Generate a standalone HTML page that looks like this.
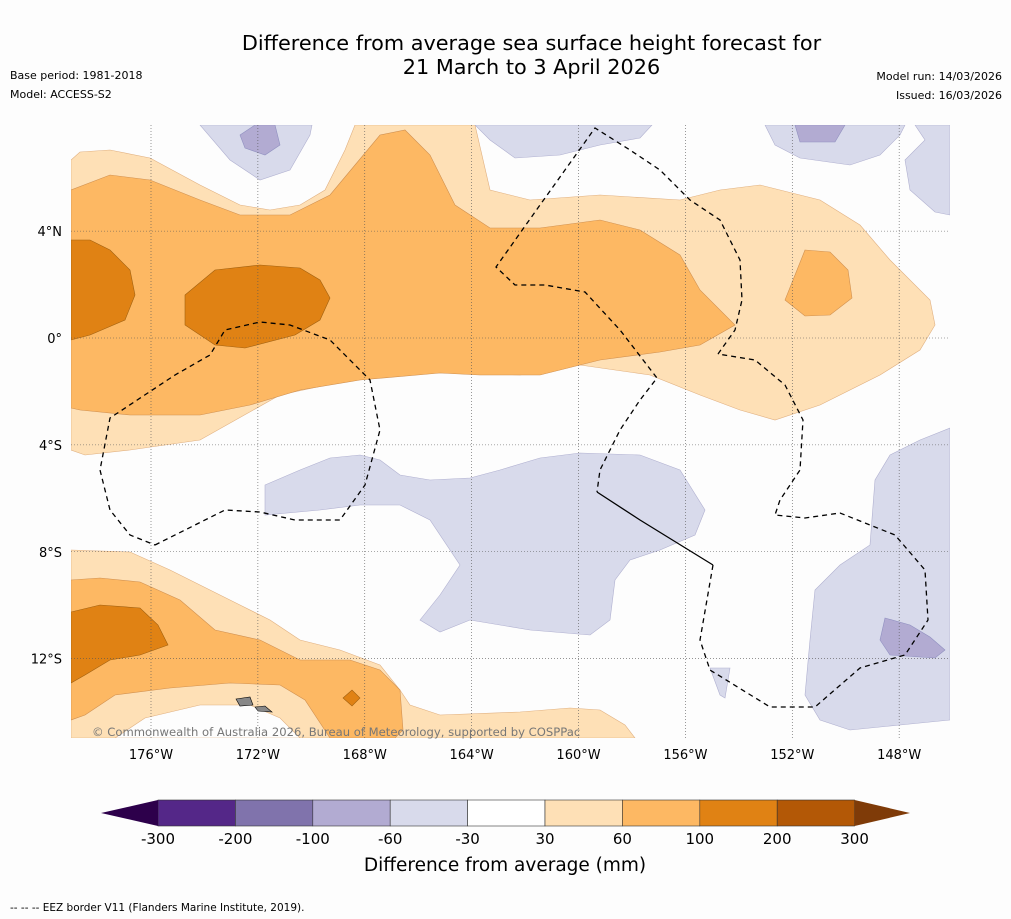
<!DOCTYPE html>
<html><head><meta charset="utf-8">
<style>
body{margin:0;background:#fdfdfd;font-family:"DejaVu Sans","Liberation Sans",sans-serif;}
#root{position:relative;width:1011px;height:919px;overflow:hidden;background:#fdfdfd;}
.t{position:absolute;white-space:nowrap;color:#000;}
svg text{font-family:"DejaVu Sans","Liberation Sans",sans-serif;}
</style></head><body>
<div id="root">
<div class="t" style="left:0;width:1063px;text-align:center;top:31px;font-size:20.8px;line-height:24px">Difference from average sea surface height forecast for<br>21 March to 3 April 2026</div>
<div class="t" style="left:10px;top:69px;font-size:11px">Base period: 1981-2018</div>
<div class="t" style="left:10px;top:88px;font-size:11px">Model: ACCESS-S2</div>
<div class="t" style="right:9px;top:70px;font-size:11px">Model run: 14/03/2026</div>
<div class="t" style="right:9px;top:89px;font-size:11px">Issued: 16/03/2026</div>
<svg id="map" width="1011" height="919" style="position:absolute;left:0;top:0">
<defs><clipPath id="mc"><rect x="71" y="125" width="879" height="613"/></clipPath></defs>
<g clip-path="url(#mc)" id="contours" stroke-width="0.6">
<polygon fill="#fee0b6" stroke="#e0b080" points="71,160 80,152 110,150 150,158 200,185 240,205 270,210 300,205 325,190 345,150 355,125 470,125 475,125 490,190 530,200 600,195 680,200 720,190 760,185 820,200 860,225 890,260 930,300 935,325 920,350 880,375 820,405 775,420 740,410 700,395 650,375 580,365 520,375 430,372 350,380 280,395 200,440 130,450 85,455 71,450"/>
<polygon fill="#fdb863" stroke="#d09050" points="71,190 110,175 150,180 200,200 240,215 290,215 330,195 355,165 380,135 405,130 430,155 455,205 490,228 540,228 600,220 640,230 680,255 700,290 735,325 700,345 660,352 600,360 540,375 480,375 440,373 360,380 300,390 250,405 200,415 130,415 80,410 71,408"/>
<polygon fill="#e08214" stroke="#a06010" points="71,240 90,240 110,250 130,270 135,295 125,320 90,335 71,340"/>
<polygon fill="#e08214" stroke="#a06010" points="185,295 215,270 260,265 300,268 320,280 330,298 320,320 295,335 245,348 215,345 185,325"/>
<polygon fill="#fdb863" stroke="#d09050" points="805,250 830,252 848,270 852,298 830,315 805,316 785,300 795,275"/>
<polygon fill="#fee0b6" stroke="#e0b080" points="71,550 130,552 170,570 210,590 240,605 270,620 300,640 340,650 380,665 400,690 410,705 440,715 520,712 570,708 600,710 625,725 635,738 71,738"/>
<polygon fill="#fdfdfd" stroke="#e0b080" points="115,738 145,718 200,705 250,705 280,718 300,738"/>
<polygon fill="#fdb863" stroke="#d09050" points="71,580 100,578 140,582 180,600 215,630 260,640 300,660 350,660 380,670 400,690 403,730 395,738 330,738 305,700 280,685 230,683 170,688 115,695 85,715 71,720"/>
<polygon fill="#e08214" stroke="#a06010" points="71,612 100,605 140,608 158,625 168,645 140,655 110,660 85,675 71,683"/>
<polygon fill="#e08214" stroke="#a06010" points="343,698 352,690 360,698 352,706"/>
<polygon fill="#d8daeb" stroke="#b0b0d0" points="200,125 230,160 260,180 290,170 310,135 312,125"/>
<polygon fill="#b2abd2" stroke="#9090c0" points="240,135 255,125 275,125 280,145 265,155 245,148"/>
<polygon fill="#d8daeb" stroke="#b0b0d0" points="475,125 490,140 515,158 560,155 600,145 640,138 652,125"/>
<polygon fill="#d8daeb" stroke="#b0b0d0" points="765,125 775,145 800,158 850,165 880,155 900,135 905,125"/>
<polygon fill="#b2abd2" stroke="#9090c0" points="795,125 845,125 835,142 800,142"/>
<polygon fill="#d8daeb" stroke="#b0b0d0" points="915,125 925,140 905,160 910,190 935,212 950,215 950,125"/>
<polygon fill="#d8daeb" stroke="#b0b0d0" points="265,485 300,470 330,458 360,455 380,460 400,475 430,480 470,478 500,470 540,458 580,453 640,455 680,470 705,510 695,535 660,550 630,560 615,580 610,620 590,635 530,630 470,620 440,632 420,620 440,595 460,565 430,520 400,505 360,505 320,510 265,515"/>
<polygon fill="#d8daeb" stroke="#b0b0d0" points="950,428 920,440 890,455 875,480 870,545 840,565 815,590 810,640 805,695 820,720 850,730 900,725 950,720"/>
<polygon fill="#b2abd2" stroke="#9090c0" points="885,618 910,625 930,637 945,650 935,658 890,655 880,640"/>
<polygon fill="#d8daeb" stroke="#b0b0d0" points="710,668 730,668 725,698 720,695"/>
<polygon fill="#888" stroke="#000" points="236,699 250,697 253,705 240,706"/>
<polygon fill="#888" stroke="#000" points="255,707 265,706 272,712 258,711"/>
</g>
<g id="grid" stroke="#555" stroke-width="0.6" stroke-dasharray="1,2"></g>
<g fill="none" stroke="#000" stroke-width="1.3">
<polyline stroke-dasharray="5,4" points="155,545 225,510 260,512 295,520 340,520 365,485 380,430 370,380 330,340 290,325 260,322 225,330 210,355 175,375 110,418 100,470 110,510 130,535 155,545"/>
<polyline stroke-dasharray="5,4" points="718,354 735,330 742,300 740,260 720,220 690,200 660,170 630,150 595,128 540,205 496,267 515,285 545,285 585,292 620,330 657,378 640,400 620,430 600,470 597,492"/>
<polyline points="597,492 640,520 713,565"/>
<polyline stroke-dasharray="5,4" points="713,565 700,640 710,670 770,707 815,707 860,668 905,655 928,620 925,570 895,535 840,513 805,518 775,515 780,500 800,470 803,420 785,385 755,360 718,354"/>
</g>
<g id="ticks" font-size="13"></g>
<text x="92" y="736" font-size="11.6" fill="#777">© Commonwealth of Australia 2026, Bureau of Meteorology, supported by COSPPac</text>
<g id="cbar"></g>
<text x="505" y="871" font-size="18.5" text-anchor="middle">Difference from average (mm)</text>
<text x="10" y="911" font-size="10.5">--  --  -- EEZ border V11 (Flanders Marine Institute, 2019).</text>
</svg>
</div>
<script>
const levels=[-300,-200,-100,-60,-30,30,60,100,200,300];
const levelColors=["#542788","#8073ac","#b2abd2","#d8daeb","#ffffff","#fee0b6","#fdb863","#e08214","#b35806"];
const extendColors=["#2d004b","#7f3b08"];
const lonTicks=[176,172,168,164,160,156,152,148];
const latTicks=[4,0,-4,-8,-12];
const NS="http://www.w3.org/2000/svg";
const xLon=w=>151+(176-w)*26.72;
const yLat=l=>338-l*26.72;
const cx=i=>158+i*77.4;
function mk(t,a,p){const e=document.createElementNS(NS,t);for(const k in a)e.setAttribute(k,a[k]);p.appendChild(e);return e;}
const grid=document.getElementById('grid'),ticks=document.getElementById('ticks'),cb=document.getElementById('cbar');
lonTicks.forEach(w=>{const x=xLon(w);
const l=mk('line',{x1:x,x2:x,y1:125,y2:738},grid);


const t=mk('text',{x:x,y:759,'text-anchor':'middle'},ticks);t.textContent=w+'°W';

});
latTicks.forEach(v=>{const y=yLat(v);
const l=mk('line',{x1:71,x2:950,y1:y,y2:y},grid);


const t=mk('text',{x:62,y:y+5,'text-anchor':'end'},ticks);t.textContent=v===0?'0°':Math.abs(v)+'°'+(v>0?'N':'S');

});
levelColors.forEach((c,i)=>{const r=mk('rect',{x:cx(i),y:800,width:77.4,height:26,fill:c,stroke:'#333','stroke-width':0.6},cb);

});
const n=levelColors.length;
const a=mk('polygon',{points:`101,813 ${cx(0)},800 ${cx(0)},826`,fill:extendColors[0]},cb);


const b=mk('polygon',{points:`${cx(n)},800 910,813 ${cx(n)},826`,fill:extendColors[1]},cb);


levels.forEach((v,i)=>{const t=mk('text',{x:cx(i),y:844,'font-size':15,'text-anchor':'middle'},cb);t.textContent=v;

});
</script>
</body></html>
